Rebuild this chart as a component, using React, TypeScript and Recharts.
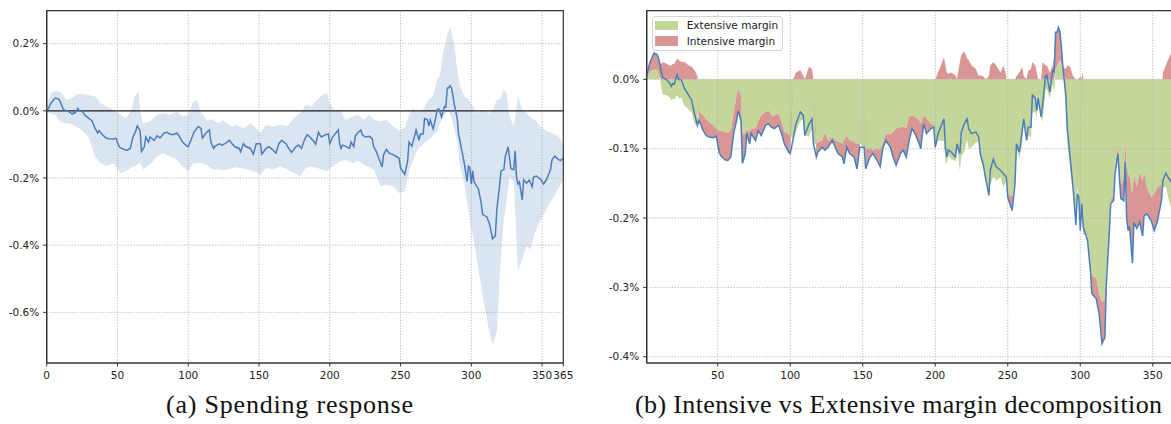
import React from 'react';
import { ComposedChart, Area, Line, XAxis, YAxis, ReferenceLine, ReferenceArea, Legend } from 'recharts';

// ---- daily response (shared by both panels) ----
const DAYS = [
  0, 1, 3, 6, 8, 9, 10, 11, 12, 15,
  17, 18, 19, 20, 22, 23, 25, 27, 30, 32,
  34, 36, 37, 40, 42, 44, 47, 49, 51, 52,
  55, 57, 59, 61, 63, 64, 66, 67, 69, 70,
  72, 73, 76, 78, 80, 83, 85, 87, 89, 92,
  94, 96, 99, 100, 102, 104, 107, 109, 110, 113,
  115, 116, 118, 119, 122, 124, 126, 129, 131, 133,
  136, 137, 139, 141, 144, 146, 148, 151, 152, 155,
  157, 160, 162, 164, 166, 169, 171, 173, 176, 178,
  180, 182, 184, 186, 189, 190, 192, 194, 197, 199,
  200, 202, 206, 207, 208, 209, 211, 214, 215, 217,
  218, 220, 222, 223, 225, 228, 230, 231, 233, 235,
  237, 238, 240, 242, 245, 247, 249, 250, 253, 254,
  255, 256, 258, 260, 261, 263, 264, 266, 267, 269,
  270, 271, 273, 274, 276, 277, 279, 281, 282, 283,
  284, 285, 286, 287, 288, 290, 291, 293, 295, 297,
  298, 299, 300, 301, 302, 305, 307, 308, 311, 313,
  315, 317, 318, 320, 321, 323, 324, 326, 327, 328,
  330, 331, 332, 333, 334, 336, 337, 339, 341, 343,
  344, 346, 349, 351, 353, 356, 357, 359, 361, 363,
  365,
];

// total spending response (%)
const TOTAL = [
  0, 0.005, 0.023, 0.038, 0.036, 0.032, 0.023, 0.011, 0.003, -0.001,
  -0.006, -0.01, -0.006, -0.007, 0.007, 0.0, -0.001, -0.013, -0.023, -0.03,
  -0.05, -0.066, -0.059, -0.074, -0.081, -0.083, -0.084, -0.082, -0.105, -0.11,
  -0.116, -0.117, -0.112, -0.078, -0.059, -0.045, -0.059, -0.121, -0.107, -0.078,
  -0.093, -0.078, -0.088, -0.074, -0.081, -0.066, -0.064, -0.069, -0.071, -0.066,
  -0.078, -0.093, -0.105, -0.107, -0.086, -0.064, -0.047, -0.052, -0.081, -0.064,
  -0.057, -0.093, -0.112, -0.105, -0.098, -0.102, -0.098, -0.088, -0.098, -0.107,
  -0.112, -0.122, -0.098, -0.107, -0.112, -0.129, -0.098, -0.098, -0.129, -0.112,
  -0.107, -0.117, -0.126, -0.098, -0.088, -0.098, -0.112, -0.124, -0.107, -0.102,
  -0.112, -0.088, -0.071, -0.078, -0.093, -0.1, -0.064, -0.078, -0.071, -0.069,
  -0.098, -0.078, -0.057, -0.098, -0.112, -0.102, -0.105, -0.112, -0.093, -0.107,
  -0.076, -0.064, -0.057, -0.071, -0.078, -0.076, -0.083, -0.107, -0.122, -0.146,
  -0.167, -0.131, -0.115, -0.126, -0.131, -0.136, -0.141, -0.17, -0.189, -0.17,
  -0.15, -0.093, -0.105, -0.074, -0.057, -0.088, -0.069, -0.069, -0.023, -0.027,
  -0.045, -0.027, -0.054, -0.037, 0.004, 0.006, -0.018, 0.013, 0.011, 0.068,
  0.068, 0.075, 0.068, 0.047, 0.018, -0.021, -0.069, -0.112, -0.155, -0.21,
  -0.165, -0.17, -0.218, -0.179, -0.212, -0.232, -0.275, -0.309, -0.316, -0.338,
  -0.381, -0.372, -0.295, -0.222, -0.179, -0.175, -0.136, -0.107, -0.141, -0.172,
  -0.175, -0.119, -0.2, -0.218, -0.212, -0.265, -0.206, -0.215, -0.206, -0.226,
  -0.197, -0.194, -0.204, -0.218, -0.206, -0.175, -0.146, -0.135, -0.143, -0.148,
  -0.14,
];

// intensive-margin contribution (%)
const INTENSIVE = [
  0, 0.003, 0.012, 0.024, 0.022, 0.02, 0.02, 0.022, 0.025, 0.022,
  0.02, 0.02, 0.022, 0.022, 0.03, 0.028, 0.025, 0.025, 0.02, 0.018,
  0.013, 0.005, -0.014, -0.022, -0.024, -0.022, -0.018, -0.011, -0.03, -0.036,
  -0.04, -0.04, -0.038, -0.03, -0.036, -0.031, -0.035, -0.043, -0.029, -0.005,
  -0.017, -0.007, -0.017, -0.014, -0.029, -0.019, -0.019, -0.017, -0.019, -0.017,
  -0.017, -0.017, -0.026, -0.026, 0.0, 0.01, 0.013, 0.005, 0.0, 0.018,
  0.015, 0.0, -0.019, -0.014, -0.01, -0.026, -0.01, -0.005, -0.01, -0.017,
  -0.019, -0.034, -0.017, -0.019, -0.022, -0.036, -0.005, 0.0, -0.029, -0.012,
  -0.005, -0.017, -0.024, -0.007, -0.01, -0.019, -0.036, -0.053, -0.038, -0.034,
  -0.041, -0.034, -0.019, -0.024, -0.034, -0.036, -0.012, -0.022, -0.007, -0.002,
  0.0, 0.01, 0.032, 0.02, 0.01, 0.008, 0.01, 0.006, 0.0, 0.025,
  0.035, 0.04, 0.03, 0.028, 0.02, 0.015, 0.005, 0.006, 0.004, 0.0,
  0.005, 0.02, 0.025, 0.02, 0.01, 0.02, 0.005, -0.005, -0.02, -0.01,
  0.0, 0.005, 0.01, 0.018, 0.005, 0.0, 0.012, 0.015, 0.025, 0.02,
  0.01, 0.0, 0.0, 0.025, 0.02, 0.02, 0.01, 0.02, 0.03, 0.053,
  0.05, 0.05, 0.041, 0.025, 0.008, 0.015, 0.02, 0.018, 0.005, 0.0,
  -0.01, 0.0, 0.005, 0.0, 0.012, -0.007, -0.015, -0.025, -0.03, -0.028,
  -0.06, -0.055, -0.02, 0.0, -0.005, -0.01, -0.01, -0.01, -0.02, -0.02,
  -0.03, -0.034, -0.07, -0.082, -0.072, -0.1, -0.07, -0.06, -0.072, -0.079,
  -0.065, -0.038, -0.034, -0.053, -0.05, -0.024, 0.01, 0.02, 0.03, 0.04,
  0.045,
];

// ---- confidence band (left panel) ----
const BAND_DAYS = [
  0, 3, 6, 10, 14, 18, 22, 26, 30, 34,
  38, 42, 47, 52, 56, 60, 62, 65, 66, 68,
  73, 78, 82, 87, 92, 96, 100, 103, 106, 109,
  113, 117, 121, 125, 130, 134, 139, 144, 148, 151,
  155, 160, 165, 170, 175, 179, 183, 187, 191, 194,
  198, 200, 204, 207, 211, 216, 220, 224, 228, 231,
  236, 240, 245, 249, 253, 256, 259, 262, 266, 270,
  273, 276, 278, 280, 283, 285, 288, 290, 292, 295,
  298, 301, 304, 308, 312, 315, 318, 320, 323, 325,
  327, 330, 333, 336, 339, 342, 345, 349, 353, 357,
  361, 365,
];
const BAND_UPPER = [
  0.01, 0.053, 0.06, 0.055, 0.033, 0.038, 0.05, 0.05, 0.046, 0.043,
  0.023, 0.013, 0.003, -0.012, -0.022, 0.003, 0.043, 0.057, 0.003, -0.037,
  -0.032, -0.012, -0.007, -0.012, -0.002, -0.017, -0.012, 0.023, 0.033, -0.005,
  -0.027, -0.025, -0.037, -0.027, -0.047, -0.042, -0.052, -0.037, -0.052, -0.066,
  -0.042, -0.047, -0.042, -0.045, -0.02, -0.007, 0.018, 0.013, 0.033, 0.043,
  0.052, 0.023, -0.002, 0.003, -0.027, -0.017, -0.012, -0.027, -0.012, -0.027,
  -0.032, -0.027, -0.047, -0.06, -0.05, -0.015, 0.008, -0.005, 0.003, 0.035,
  0.043, 0.095, 0.107, 0.171, 0.225, 0.25, 0.2, 0.12, 0.072, 0.043,
  0.033, 0.015, -0.007, 0.003, -0.007, 0.003, 0.033, 0.033, 0.062, 0.052,
  -0.017, -0.047, 0.043, 0.003, -0.007, -0.02, -0.027, -0.047, -0.061, -0.066,
  -0.076, -0.096,
];
const BAND_LOWER = [
  -0.005, -0.008, -0.012, -0.035, -0.037, -0.04, -0.05, -0.062, -0.08, -0.136,
  -0.155, -0.165, -0.155, -0.185, -0.18, -0.168, -0.165, -0.158, -0.155, -0.175,
  -0.16, -0.136, -0.126, -0.136, -0.146, -0.165, -0.18, -0.158, -0.155, -0.155,
  -0.16, -0.175, -0.175, -0.178, -0.172, -0.168, -0.172, -0.177, -0.183, -0.19,
  -0.17, -0.175, -0.165, -0.175, -0.185, -0.195, -0.17, -0.165, -0.17, -0.175,
  -0.18, -0.172, -0.16, -0.15, -0.146, -0.155, -0.148, -0.16, -0.168, -0.175,
  -0.225, -0.22, -0.225, -0.245, -0.24, -0.18, -0.145, -0.115, -0.1, -0.085,
  -0.076, -0.06, -0.037, -0.02, 0.0, -0.007, -0.055, -0.09, -0.165, -0.215,
  -0.3, -0.37, -0.443, -0.55, -0.641, -0.7, -0.66, -0.5, -0.32, -0.265,
  -0.2, -0.21, -0.478, -0.44, -0.403, -0.413, -0.363, -0.324, -0.294, -0.265,
  -0.235, -0.205,
];

// ---- ticks ----
const LEFT_X_TICKS = [0, 50, 100, 150, 200, 250, 300, 350, 365];
const LEFT_Y_TICKS = [-0.6, -0.4, -0.2, 0, 0.2];
const RIGHT_X_TICKS = [50, 100, 150, 200, 250, 300, 350];
const RIGHT_Y_TICKS = [-0.4, -0.3, -0.2, -0.1, 0];

const SERIES_NAMES = { ext: 'Extensive margin', int: 'Intensive margin' };
const COLORS = {
  line: '#4a7ebb',
  band: '#dbe5f1',
  ext: '#c4d79b',
  int: '#da9694',
  grid: '#b0b0b0',
  spine: '#333333',
};
const CAPTIONS = ['(a) Spending response', '(b) Intensive vs Extensive margin decomposition'];

const lineRows = DAYS.map((d, i) => ({ day: d, total: TOTAL[i] }));
const bandRows = BAND_DAYS.map((d, i) => ({ day: d, band: [BAND_LOWER[i], BAND_UPPER[i]] }));
const decompRows = DAYS.map((d, i) => ({
  day: d,
  total: TOTAL[i],
  intensive: INTENSIVE[i],
  extensive: +(TOTAL[i] - INTENSIVE[i]).toFixed(4),
}));

const fmtPct = (v: number) => `${(Math.abs(v) < 1e-9 ? 0 : v).toFixed(1)}%`;
const tickStyle = { fill: '#222', fontSize: 10.5, fontFamily: 'DejaVu Sans' };
const axisLineStyle = { stroke: COLORS.spine, strokeWidth: 1.2 };

const L_Y = [-0.7507, 0.298];
const R_Y = [-0.409, 0.099];

const LegendBox = (props: any) => {
  const items = (props.payload || []).filter(
    (p: any) => p.value === SERIES_NAMES.ext || p.value === SERIES_NAMES.int
  );
  return (
    <div
      style={{
        width: 131,
        height: 35,
        boxSizing: 'border-box',
        border: '1px solid #d4d4d4',
        borderRadius: 3,
        background: 'rgba(255,255,255,0.85)',
        position: 'relative',
        fontFamily: 'DejaVu Sans',
        fontSize: 10.5,
        color: '#222',
      }}
    >
      {items.map((p: any, i: number) => (
        <div
          key={i}
          style={{ position: 'absolute', left: 1.7, top: 3.7 + i * 15.3, height: 9.5, display: 'flex', alignItems: 'center', whiteSpace: 'nowrap' }}
        >
          <span
            style={{
              width: 23,
              height: 9.5,
              display: 'inline-block',
              background: p.value === SERIES_NAMES.ext ? COLORS.ext : COLORS.int,
            }}
          />
          <span style={{ marginLeft: 8.7, lineHeight: '10px' }}>{p.value}</span>
        </div>
      ))}
    </div>
  );
};

export default function App() {
  return (
    <div style={{ position: 'fixed', left: 0, top: 0, width: 1171, height: 424, overflow: 'hidden', background: '#fff' }}>
      {/* Left panel */}
      <div style={{ position: 'absolute', left: 0, top: 0 }}>
        <ComposedChart width={580} height={400} margin={{ top: 10.7, right: 16.7, bottom: 7, left: 0 }}>
          <XAxis
            type="number"
            dataKey="day"
            domain={[0, 365]}
            ticks={LEFT_X_TICKS}
            interval={0}
            allowDataOverflow
            height={30}
            tickSize={3.5}
            tickMargin={5}
            tick={tickStyle}
            axisLine={axisLineStyle}
            tickLine={{ stroke: COLORS.spine }}
          />
          <YAxis
            type="number"
            domain={L_Y}
            ticks={LEFT_Y_TICKS}
            interval={0}
            allowDataOverflow
            width={46.7}
            tickSize={3.5}
            tickMargin={4}
            tick={tickStyle}
            tickFormatter={fmtPct}
            axisLine={axisLineStyle}
            tickLine={{ stroke: COLORS.spine }}
          />
          <Area
            data={bandRows}
            dataKey="band"
            type="linear"
            fill={COLORS.band}
            fillOpacity={1}
            stroke="none"
            isAnimationActive={false}
          />
          {LEFT_X_TICKS.filter((t) => t > 0 && t < 365).map((t) => (
            <ReferenceLine key={'lx' + t} x={t} stroke={COLORS.grid} strokeDasharray="1.2 1.6" strokeWidth={0.9} />
          ))}
          {LEFT_Y_TICKS.map((t) => (
            <ReferenceLine key={'ly' + t} y={t} stroke={COLORS.grid} strokeDasharray="1.2 1.6" strokeWidth={0.9} />
          ))}
          <ReferenceLine y={0} stroke="#222" strokeWidth={1.3} />
          <Line
            data={lineRows}
            dataKey="total"
            type="linear"
            stroke={COLORS.line}
            strokeWidth={1.5}
            dot={false}
            isAnimationActive={false}
          />
          <ReferenceArea x1={0} x2={365} y1={L_Y[0]} y2={L_Y[1]} fill="none" stroke={COLORS.spine} strokeWidth={1.2} />
        </ComposedChart>
      </div>

      {/* Right panel */}
      <div style={{ position: 'absolute', left: 590, top: 0 }}>
        <ComposedChart
          width={600}
          height={400}
          data={decompRows}
          stackOffset="sign"
          margin={{ top: 10.7, right: 15.5, bottom: 7, left: 0 }}
        >
          <XAxis
            type="number"
            dataKey="day"
            domain={[1, 365]}
            ticks={RIGHT_X_TICKS}
            interval={0}
            allowDataOverflow
            height={30}
            tickSize={3.5}
            tickMargin={5}
            tick={tickStyle}
            axisLine={axisLineStyle}
            tickLine={{ stroke: COLORS.spine }}
          />
          <YAxis
            type="number"
            domain={R_Y}
            ticks={RIGHT_Y_TICKS}
            interval={0}
            allowDataOverflow
            width={56.7}
            tickSize={3.5}
            tickMargin={4}
            tick={tickStyle}
            tickFormatter={fmtPct}
            axisLine={axisLineStyle}
            tickLine={{ stroke: COLORS.spine }}
          />
          <Area
            dataKey="extensive"
            name={SERIES_NAMES.ext}
            stackId="d"
            type="linear"
            fill={COLORS.ext}
            fillOpacity={1}
            stroke="none"
            isAnimationActive={false}
          />
          <Area
            dataKey="intensive"
            name={SERIES_NAMES.int}
            stackId="d"
            type="linear"
            fill={COLORS.int}
            fillOpacity={1}
            stroke="none"
            isAnimationActive={false}
          />
          {RIGHT_X_TICKS.map((t) => (
            <ReferenceLine key={'rx' + t} x={t} stroke={COLORS.grid} strokeDasharray="1.2 1.6" strokeWidth={0.9} />
          ))}
          {RIGHT_Y_TICKS.map((t) => (
            <ReferenceLine key={'ry' + t} y={t} stroke={COLORS.grid} strokeDasharray="1.2 1.6" strokeWidth={0.9} />
          ))}
          <Line
            dataKey="total"
            name="Total"
            legendType="none"
            type="linear"
            stroke={COLORS.line}
            strokeWidth={1.5}
            dot={false}
            isAnimationActive={false}
          />
          <ReferenceArea x1={1} x2={365} y1={R_Y[0]} y2={R_Y[1]} fill="none" stroke={COLORS.spine} strokeWidth={1.2} />
          <Legend
            layout="vertical"
            align="center"
            verticalAlign="middle"
            content={<LegendBox />}
            wrapperStyle={{ left: 62.3, top: 16, width: 131, height: 35 }}
          />
        </ComposedChart>
      </div>

      {/* Captions */}
      <svg width={1171} height={424} style={{ position: 'absolute', left: 0, top: 0, pointerEvents: 'none' }}>
        <text x={166} y={413} fontFamily="Liberation Serif" fontSize={26} fill="#111" textLength={247} lengthAdjust="spacing">
          {CAPTIONS[0]}
        </text>
        <text x={635} y={413} fontFamily="Liberation Serif" fontSize={26} fill="#111" textLength={527} lengthAdjust="spacing">
          {CAPTIONS[1]}
        </text>
      </svg>
    </div>
  );
}
